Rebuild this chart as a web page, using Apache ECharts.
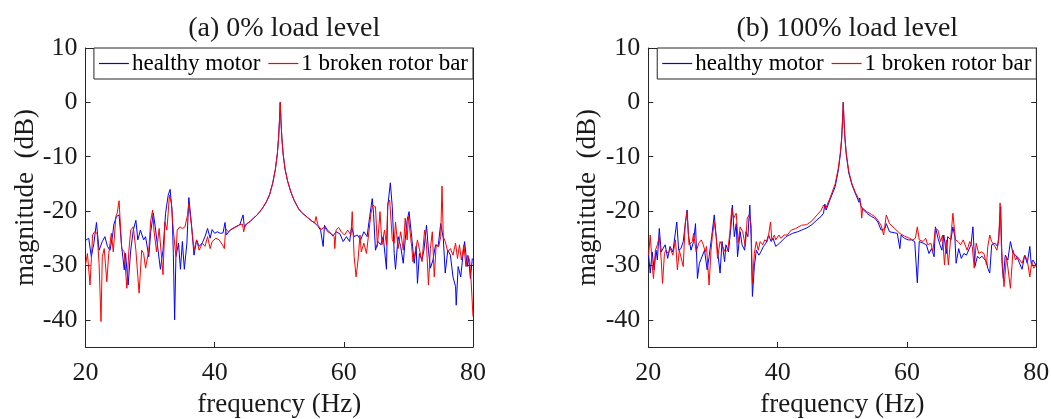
<!DOCTYPE html>
<html>
<head>
<meta charset="utf-8">
<script src="https://cdn.jsdelivr.net/npm/echarts@6/dist/echarts.min.js"></script>
<style>html,body{margin:0;padding:0;background:#fff}#c{width:1051px;height:419px}</style>
</head>
<body>
<div id="c"></div>
<script>
// ---- data: [frequency Hz, magnitude dB] ----
const titles = ['(a) 0% load level', '(b) 100% load level'];
const seriesNames = ['healthy motor', '1 broken rotor bar'];
const xTicks = [20, 40, 60, 80];
const yTicks = [-40, -30, -20, -10, 0, 10];

const healthyA = [
[20.0,-25.4],[20.5,-25.0],[20.9,-28.4],[21.3,-25.9],[21.7,-22.1],[22.1,-27.2],[22.6,-25.6],[23.0,-24.7],[23.4,-26.5],[23.8,-27.2],
[24.2,-24.4],[24.4,-22.4],[24.8,-21.0],[25.2,-20.7],[25.6,-26.5],[26.0,-30.8],[26.2,-27.8],[26.6,-33.6],[27.0,-27.2],[27.4,-23.5],
[27.8,-21.7],[28.1,-25.3],[28.5,-23.5],[29.0,-25.3],[29.3,-24.7],[29.8,-28.4],[30.1,-23.8],[30.5,-20.4],[30.8,-22.9],[31.1,-25.9],
[31.6,-30.7],[32.0,-27.2],[32.4,-20.4],[32.8,-17.1],[33.1,-16.0],[33.4,-19.8],[33.6,-27.8],[33.8,-40.0],[34.0,-28.4],[34.4,-25.9],
[34.7,-30.7],[35.0,-25.6],[35.3,-30.7],[35.7,-25.9],[36.0,-17.5],[36.4,-22.3],[36.8,-28.1],[37.2,-25.3],[37.6,-26.5],[38.1,-25.8],
[38.5,-24.7],[38.9,-23.2],[39.3,-25.0],[39.6,-23.4],[40.0,-24.1],[40.4,-23.8],[40.9,-24.1],[41.3,-24.0],[41.6,-22.1],[41.8,-24.4],
[42.4,-23.5],[43.2,-22.9],[43.9,-22.5],[44.4,-20.7],[44.6,-23.0],[45.0,-22.3],[45.5,-21.9],[46.0,-21.3],[46.5,-20.8],[47.0,-20.1],
[47.5,-19.3],[48.0,-18.3],[48.5,-17.0],[49.0,-14.8],[49.4,-12.3],[49.7,-9.5],[49.9,-6.5],[50.05,-3.0],[50.15,0.0],[50.25,-3.0],
[50.4,-6.5],[50.6,-9.5],[50.9,-12.3],[51.3,-14.5],[51.8,-16.5],[52.3,-18.0],[53.0,-19.6],[53.5,-20.3],[54.0,-20.8],[54.5,-21.3],
[55.0,-21.8],[55.5,-22.2],[56.0,-22.8],[56.4,-23.5],[56.8,-26.5],[57.0,-22.6],[57.4,-23.4],[58.0,-24.1],[58.3,-24.6],[58.8,-23.8],
[59.4,-24.2],[59.9,-25.6],[60.4,-24.7],[60.9,-25.6],[61.2,-22.9],[61.6,-24.7],[62.1,-24.4],[62.6,-25.3],[63.1,-23.8],[63.6,-24.7],
[64.0,-21.0],[64.4,-17.7],[64.6,-20.4],[64.9,-27.2],[65.3,-25.6],[65.7,-26.2],[66.1,-24.7],[66.6,-30.7],[66.8,-19.2],[67.2,-14.8],
[67.5,-19.2],[67.8,-27.8],[68.0,-30.7],[68.4,-24.7],[68.8,-26.5],[69.2,-29.6],[69.5,-25.3],[69.8,-21.7],[70.1,-20.1],[70.5,-24.7],
[70.9,-29.6],[71.2,-26.5],[71.4,-33.3],[71.7,-27.8],[72.1,-29.0],[72.4,-27.2],[72.8,-22.6],[73.1,-27.2],[73.4,-30.5],[73.8,-29.0],
[74.2,-26.2],[74.6,-26.5],[75.0,-22.3],[75.4,-25.0],[75.7,-31.4],[76.1,-27.2],[76.5,-28.1],[76.9,-32.1],[77.3,-33.9],[77.4,-37.3],
[77.7,-30.2],[78.1,-32.1],[78.5,-27.5],[78.7,-25.6],[79.1,-30.2],[79.3,-28.4],[79.6,-32.4],[79.9,-28.7],[80.0,-28.7]
];

const brokenA = [
[20.0,-29.9],[20.3,-27.8],[20.7,-33.6],[21.1,-24.4],[21.4,-23.8],[21.8,-24.1],[22.1,-29.6],[22.4,-40.3],[22.6,-28.4],[22.9,-26.9],
[23.3,-33.0],[23.6,-27.8],[24.0,-24.1],[24.3,-27.5],[24.7,-21.0],[24.9,-20.4],[25.2,-18.1],[25.6,-26.9],[26.0,-27.5],[26.4,-34.2],
[26.7,-27.5],[27.0,-23.5],[27.4,-22.9],[27.8,-27.2],[28.3,-35.1],[28.7,-27.2],[29.0,-27.8],[29.3,-30.5],[29.8,-27.2],[30.1,-21.7],
[30.4,-19.8],[30.6,-23.5],[31.0,-27.5],[31.4,-23.2],[31.6,-23.5],[32.0,-31.7],[32.3,-22.0],[32.6,-23.5],[33.0,-17.1],[33.3,-18.6],
[33.6,-23.5],[34.0,-28.4],[34.2,-23.5],[34.6,-22.9],[35.0,-23.2],[35.4,-22.9],[35.8,-20.7],[36.0,-18.6],[36.4,-22.6],[36.8,-27.2],
[37.2,-25.3],[37.6,-27.2],[38.1,-25.9],[38.5,-26.5],[38.9,-24.7],[39.3,-26.9],[39.6,-25.6],[40.2,-25.0],[40.7,-25.3],[41.2,-26.2],
[41.5,-26.9],[41.7,-23.2],[42.1,-23.8],[42.5,-23.4],[43.2,-23.0],[43.9,-22.5],[44.3,-22.4],[44.5,-23.8],[44.7,-22.6],[45.0,-22.3],
[45.5,-21.9],[46.0,-21.3],[46.5,-20.8],[47.0,-20.1],[47.5,-19.3],[48.0,-18.3],[48.5,-17.0],[49.0,-14.8],[49.4,-12.3],[49.7,-9.5],
[49.9,-6.5],[50.05,-3.0],[50.15,0.0],[50.25,-3.0],[50.4,-6.5],[50.6,-9.5],[50.9,-12.3],[51.3,-14.5],[51.8,-16.5],[52.3,-18.0],
[53.0,-19.6],[53.5,-20.3],[54.0,-20.8],[54.5,-21.3],[55.0,-21.8],[55.5,-22.1],[55.7,-21.0],[56.0,-22.6],[56.5,-23.4],[57.0,-22.9],
[57.5,-23.8],[58.1,-24.2],[58.5,-24.7],[58.6,-26.9],[58.8,-23.5],[59.2,-23.0],[59.6,-23.8],[60.1,-24.4],[60.6,-23.5],[61.1,-24.4],
[61.3,-20.1],[61.6,-28.4],[61.9,-32.1],[62.2,-29.0],[62.5,-24.4],[62.7,-27.5],[63.1,-25.9],[63.5,-27.8],[63.8,-28.1],[64.2,-20.4],
[64.5,-18.9],[64.9,-19.2],[65.2,-26.5],[65.6,-20.1],[65.9,-26.2],[66.3,-23.5],[66.6,-26.2],[66.8,-18.6],[67.1,-18.0],[67.5,-25.3],
[67.8,-25.9],[68.0,-22.0],[68.4,-26.9],[68.8,-23.8],[69.2,-27.2],[69.5,-21.3],[69.8,-25.3],[70.0,-21.0],[70.5,-26.5],[70.7,-29.3],
[71.0,-27.8],[71.4,-25.3],[71.7,-25.6],[72.1,-29.3],[72.5,-23.5],[72.8,-26.2],[73.1,-33.6],[73.4,-26.9],[73.7,-23.8],[74.0,-32.1],
[74.3,-26.2],[74.7,-26.5],[75.0,-24.7],[75.2,-15.4],[75.4,-24.7],[75.7,-25.6],[76.1,-27.5],[76.5,-26.9],[76.9,-28.1],[77.3,-25.9],
[77.6,-28.7],[77.9,-26.2],[78.2,-29.0],[78.6,-26.2],[78.9,-30.2],[79.2,-28.1],[79.5,-29.3],[79.7,-32.7],[80.0,-39.4]
];

const healthyB = [
[20.05,-28.1],[20.3,-31.4],[20.6,-27.5],[20.9,-30.8],[21.2,-27.2],[21.4,-29.0],[21.7,-23.2],[22.0,-27.5],[22.3,-27.2],[22.6,-26.2],
[23.0,-28.7],[23.35,-26.5],[23.8,-27.5],[24.0,-27.2],[24.4,-22.0],[24.7,-27.2],[25.05,-26.9],[25.4,-25.6],[25.7,-22.6],[26.0,-19.8],
[26.2,-24.4],[26.6,-27.2],[27.0,-25.6],[27.3,-22.3],[27.6,-32.4],[27.9,-29.6],[28.2,-29.3],[28.7,-27.2],[29.1,-30.8],[29.4,-28.4],
[29.8,-24.7],[30.2,-20.7],[30.5,-24.7],[30.7,-27.2],[31.1,-31.4],[31.4,-25.6],[31.8,-29.3],[32.0,-26.2],[32.4,-27.5],[32.8,-22.6],
[33.0,-18.9],[33.3,-24.7],[33.6,-22.3],[33.8,-28.4],[34.2,-23.8],[34.5,-26.2],[34.9,-27.2],[35.1,-23.8],[35.4,-24.7],[35.7,-18.9],
[35.9,-24.7],[36.1,-35.7],[36.4,-30.2],[36.7,-27.2],[37.1,-28.1],[37.4,-27.5],[37.8,-26.5],[38.2,-25.9],[38.6,-24.4],[39.0,-25.6],
[39.3,-25.0],[39.7,-26.5],[40.3,-25.9],[40.8,-25.3],[41.3,-24.7],[41.8,-24.4],[42.3,-24.1],[43.1,-23.8],[43.7,-23.5],[44.5,-23.1],
[45.3,-22.5],[46.1,-21.6],[46.7,-21.0],[47.1,-20.4],[47.3,-18.7],[47.5,-19.8],[48.1,-17.9],[48.9,-15.5],[49.4,-12.4],[49.7,-9.5],
[49.9,-6.9],[50.05,-3.0],[50.15,0.0],[50.25,-3.0],[50.4,-6.5],[50.6,-9.5],[51.0,-13.0],[51.5,-15.2],[52.0,-16.7],[52.6,-18.4],
[52.7,-17.6],[52.85,-19.0],[53.3,-19.8],[53.8,-20.4],[54.5,-21.0],[55.0,-21.3],[55.5,-22.0],[55.8,-21.7],[56.0,-23.5],[56.6,-23.2],
[56.8,-22.3],[57.3,-23.8],[58.1,-24.0],[58.5,-24.1],[58.9,-26.9],[59.1,-24.4],[59.6,-25.0],[60.2,-25.3],[60.7,-25.3],[61.2,-25.6],
[61.4,-25.6],[61.6,-33.2],[61.9,-25.6],[62.5,-25.9],[63.0,-26.2],[63.4,-27.8],[63.8,-26.9],[64.2,-28.4],[64.4,-22.9],[64.8,-25.0],
[65.1,-26.2],[65.4,-27.2],[65.7,-24.4],[66.1,-27.8],[66.3,-24.7],[66.8,-25.3],[67.1,-22.9],[67.4,-24.7],[67.6,-29.6],[68.0,-26.9],
[68.4,-28.7],[68.8,-27.8],[69.2,-28.1],[69.5,-27.8],[69.9,-26.2],[70.2,-22.9],[70.5,-30.2],[70.9,-28.3],[71.2,-28.7],[71.6,-28.3],
[71.9,-28.4],[72.3,-29.3],[72.5,-30.5],[72.8,-31.4],[73.1,-26.2],[73.6,-25.9],[74.0,-26.5],[74.2,-24.7],[74.5,-19.2],[74.7,-29.6],
[74.9,-32.4],[75.2,-28.1],[75.6,-29.0],[76.0,-25.6],[76.4,-27.8],[76.8,-28.1],[77.1,-28.7],[77.4,-29.0],[77.8,-30.7],[78.2,-28.1],
[78.6,-29.6],[79.0,-26.5],[79.2,-29.6],[79.5,-29.0],[79.9,-29.9],[80.0,-29.6]
];

const brokenB = [
[20.05,-28.1],[20.3,-24.4],[20.6,-29.9],[20.8,-32.4],[21.1,-27.2],[21.4,-26.2],[21.7,-24.7],[22.0,-29.0],[22.2,-33.3],[22.5,-27.8],
[22.7,-27.2],[23.1,-27.8],[23.4,-26.9],[23.8,-28.1],[24.2,-25.3],[24.5,-30.8],[24.8,-27.2],[25.1,-26.9],[25.4,-30.2],[25.7,-22.3],
[26.0,-20.1],[26.3,-26.2],[26.8,-25.6],[27.0,-24.1],[27.4,-27.5],[27.8,-25.9],[28.2,-25.3],[28.5,-26.2],[28.8,-27.5],[29.0,-26.5],
[29.4,-33.6],[29.7,-27.2],[29.9,-24.7],[30.2,-22.0],[30.5,-24.7],[30.7,-28.7],[31.1,-25.6],[31.5,-26.5],[31.9,-27.5],[32.3,-27.2],
[32.6,-24.1],[32.9,-19.5],[33.2,-21.3],[33.6,-20.4],[33.9,-25.9],[34.2,-22.9],[34.6,-23.8],[35.0,-26.5],[35.3,-21.3],[35.6,-20.7],
[35.9,-22.6],[36.1,-33.3],[36.4,-27.8],[36.7,-25.6],[37.0,-27.2],[37.3,-25.6],[37.7,-26.2],[38.0,-25.3],[38.4,-25.6],[38.6,-24.4],
[38.9,-22.0],[39.1,-25.3],[39.5,-24.4],[39.7,-25.3],[40.2,-24.4],[40.5,-25.0],[41.0,-24.4],[41.5,-24.4],[42.1,-23.5],[42.8,-23.2],
[43.7,-22.6],[44.5,-22.5],[45.3,-21.8],[46.1,-20.7],[46.7,-19.9],[47.1,-18.9],[47.4,-19.6],[48.1,-17.6],[48.9,-15.0],[49.4,-12.0],
[49.7,-9.2],[49.9,-6.5],[50.05,-3.0],[50.15,0.0],[50.25,-3.0],[50.4,-6.3],[50.6,-9.2],[51.0,-12.7],[51.5,-15.0],[52.0,-16.5],
[52.5,-17.7],[52.85,-18.5],[53.0,-21.3],[53.15,-19.5],[53.8,-20.1],[54.5,-20.6],[55.0,-21.0],[55.5,-21.7],[56.0,-22.6],[56.4,-24.4],
[56.8,-20.7],[57.3,-22.3],[58.1,-23.2],[58.9,-24.1],[59.6,-24.6],[60.4,-25.0],[60.9,-25.3],[61.3,-25.0],[61.6,-22.9],[61.9,-25.3],
[62.5,-25.6],[62.9,-25.0],[63.2,-26.2],[63.7,-25.9],[64.0,-27.5],[64.4,-23.2],[64.8,-23.5],[65.2,-25.6],[65.5,-24.4],[65.8,-29.9],
[66.1,-25.3],[66.4,-29.9],[66.9,-23.2],[67.1,-20.4],[67.5,-25.3],[67.9,-25.6],[68.3,-26.2],[68.7,-25.3],[69.0,-25.6],[69.3,-27.2],
[69.7,-25.6],[70.1,-26.5],[70.4,-30.5],[70.7,-25.9],[71.1,-27.8],[71.5,-27.5],[71.9,-27.8],[72.3,-29.9],[72.5,-26.5],[72.8,-24.4],
[73.1,-25.6],[73.6,-26.5],[73.9,-27.2],[74.2,-25.3],[74.4,-18.5],[74.6,-26.5],[75.0,-33.9],[75.4,-28.4],[75.7,-28.1],[76.0,-34.2],
[76.4,-27.2],[76.8,-29.0],[77.1,-28.4],[77.4,-28.4],[77.8,-29.6],[78.2,-28.1],[78.6,-29.0],[79.0,-32.1],[79.3,-29.3],[79.6,-30.5],
[80.0,-29.9]
];

// ---- chart ----
const FONT = '"Liberation Serif", "Times New Roman", serif';
const AX = '#262626';
const TXT = '#1a1a1a';
const LINE_COLORS = ['#0000ff', '#ff0000'];
const grids = [
  {left: 85.5, right: 578, top: 48, bottom: 72, outerBoundsMode: 'none', containLabel: false},
  {left: 648.3, right: 14.7, top: 48, bottom: 72, outerBoundsMode: 'none', containLabel: false}
];
const xAxes = [], yAxes = [], series = [], legends = [], titleComps = [];
grids.forEach((g, i) => {
  const cx = g.left + (1051 - g.left - g.right) / 2;
  titleComps.push({text: titles[i], left: cx, top: 10, textAlign: 'center',
    textStyle: {fontFamily: FONT, fontSize: 28, fontWeight: 'normal', color: TXT}});
  xAxes.push({type: 'value', gridIndex: i, min: 20, max: 80, interval: 20, position: 'bottom',
    name: 'frequency (Hz)', nameLocation: 'middle', nameGap: 44,
    nameTextStyle: {fontFamily: FONT, fontSize: 27, color: TXT},
    axisLine: {onZero: false, lineStyle: {color: AX, width: 1}},
    axisTick: {inside: true, length: 5, lineStyle: {color: AX}},
    axisLabel: {fontFamily: FONT, fontSize: 26, color: TXT, margin: 13},
    splitLine: {show: false}});
  xAxes.push({type: 'value', gridIndex: i, min: 20, max: 80, interval: 20, position: 'top',
    axisLine: {onZero: false, lineStyle: {color: AX, width: 1}},
    axisTick: {inside: true, length: 5, lineStyle: {color: AX}},
    axisLabel: {show: false}, splitLine: {show: false}});
  yAxes.push({type: 'value', gridIndex: i, min: -45, max: 10, position: 'left',
    name: 'magnitude  (dB)', nameLocation: 'middle', nameGap: 44, nameRotate: 90,
    nameTextStyle: {fontFamily: FONT, fontSize: 27, color: TXT},
    axisLine: {show: true, onZero: false, lineStyle: {color: AX, width: 1}},
    axisTick: {show: true, inside: true, length: 5, lineStyle: {color: AX}, customValues: yTicks},
    axisLabel: {fontFamily: FONT, fontSize: 26, color: TXT, margin: 8, customValues: yTicks},
    splitLine: {show: false}});
  yAxes.push({type: 'value', gridIndex: i, min: -45, max: 10, position: 'right',
    axisLine: {show: true, onZero: false, lineStyle: {color: AX, width: 1}},
    axisTick: {show: true, inside: true, length: 5, lineStyle: {color: AX}, customValues: yTicks},
    axisLabel: {show: false}, splitLine: {show: false}});
  const data = i === 0 ? [healthyA, brokenA] : [healthyB, brokenB];
  data.forEach((d, k) => {
    series.push({type: 'line', name: seriesNames[k], xAxisIndex: i * 2, yAxisIndex: i * 2,
      data: d, showSymbol: false, symbol: 'none', z: 2 + k, color: LINE_COLORS[k],
      lineStyle: {color: LINE_COLORS[k], width: 1}, itemStyle: {color: LINE_COLORS[k]}});
  });
  legends.push({
    data: seriesNames.map((n, k) => ({name: n,
      icon: 'path://M0,0 L30,0 L30,1.2 L0,1.2 Z',
      itemStyle: {color: LINE_COLORS[k], borderColor: LINE_COLORS[k], borderWidth: 0},
      lineStyle: {color: LINE_COLORS[k], width: 0, opacity: 0}})),
    right: g.right, top: 48, orient: 'horizontal',
    itemWidth: 30, itemHeight: 2, itemGap: 8,
    padding: [4, 5, 4, 5], borderColor: AX, borderWidth: 1, backgroundColor: '#fff',
    textStyle: {fontFamily: FONT, fontSize: 23, color: '#000', padding: [0, 0, 0, -2]},
    selectedMode: false});
});

const chart = echarts.init(document.getElementById('c'), null, {renderer: 'canvas'});
chart.setOption({
  animation: false,
  backgroundColor: '#fff',
  color: LINE_COLORS,
  title: titleComps,
  grid: grids,
  xAxis: xAxes,
  yAxis: yAxes,
  legend: legends,
  series: series
});
</script>
</body>
</html>
